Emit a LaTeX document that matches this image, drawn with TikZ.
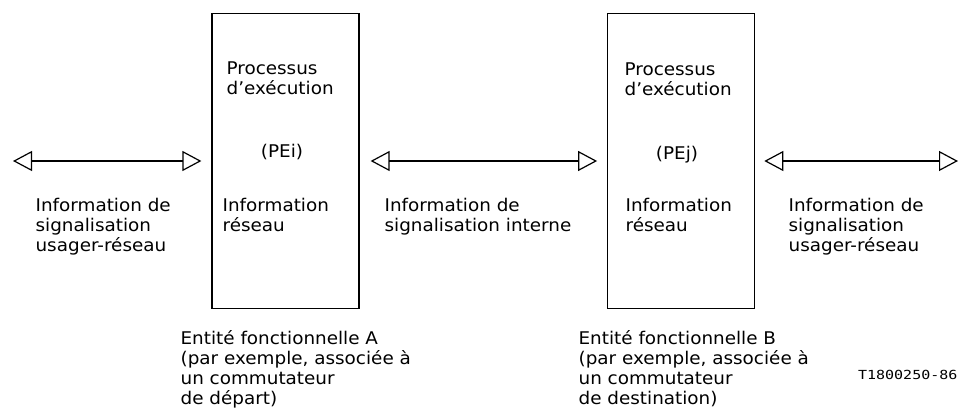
\documentclass[tikz,border=0pt]{standalone}
\usepackage{fontspec}
\setmainfont{DejaVu Sans}[FakeStretch=1.05]
\newfontfamily\codefont{DejaVu Sans Mono}[FakeStretch=1.2]
\usetikzlibrary{arrows.meta,positioning}

\begin{document}
\begin{tikzpicture}[
    x = 1pt, y = -1pt, % pixel units, y going down
    > = {Triangle[open, length=19pt, width=20pt]}, % arrow head style
    line width = 1.2pt, % line style
    node distance = 247.5pt, % gap between the two entities
    font = \fontsize{17.5}{20}\selectfont
    ]

    \tikzset{
    entity/.style = {draw, minimum width=147pt, minimum height=295pt, inner sep=0pt},
    txt/.style = {align=left, anchor=north west, inner sep=0pt}
    }

    \useasboundingbox (0,0) rectangle (959,409);

    % the two functional entities
    \node[entity] (entA) at (285.5,161) {};
    \node[entity] (entB) [right=of entA] {};

    \node[txt] (procA) at (226,61.5) {Processus\\d’exécution};
    \node[anchor=base] (peA) at (282,158) {(PEi)};
    \node[txt] (resA) at (222,198) {Information\\réseau};

    \node[txt] (procB) at (624,62.5) {Processus\\d’exécution};
    \node[anchor=base] (peB) at (677,160) {(PEj)};
    \node[txt] (resB) at (625,198) {Information\\réseau};

    % free ends of the outer arrows
    \coordinate (endL) at (13,161);
    \coordinate (endR) at (958,161);

    \path[<->, shorten > = 10pt] (endL) edge (entA);
    \path[<->, shorten < = 11pt, shorten > = 10pt] (entA) edge (entB);
    \path[<->, shorten < = 9pt] (entB) edge (endR);

    % labels of the arrows
    \node[txt] (uniA) at (35,198) {Information de\\signalisation\\usager-réseau};
    \node[txt] (sigAB) at (384,198) {Information de\\signalisation interne};
    \node[txt] (uniB) at (788,198) {Information de\\signalisation\\usager-réseau};

    % captions under the boxes
    \node[txt] (capA) at (180,330) {Entité fonctionnelle A\\(par exemple, associée à\\un commutateur\\de départ)};
    \node[txt] (capB) at (578,330) {Entité fonctionnelle B\\(par exemple, associée à\\un commutateur\\de destination)};
    \node[anchor=base east, inner sep=0pt, font=\codefont\fontsize{12.5}{14}\selectfont] (ref) at (958,379) {T1800250-86};
\end{tikzpicture}
\end{document}
